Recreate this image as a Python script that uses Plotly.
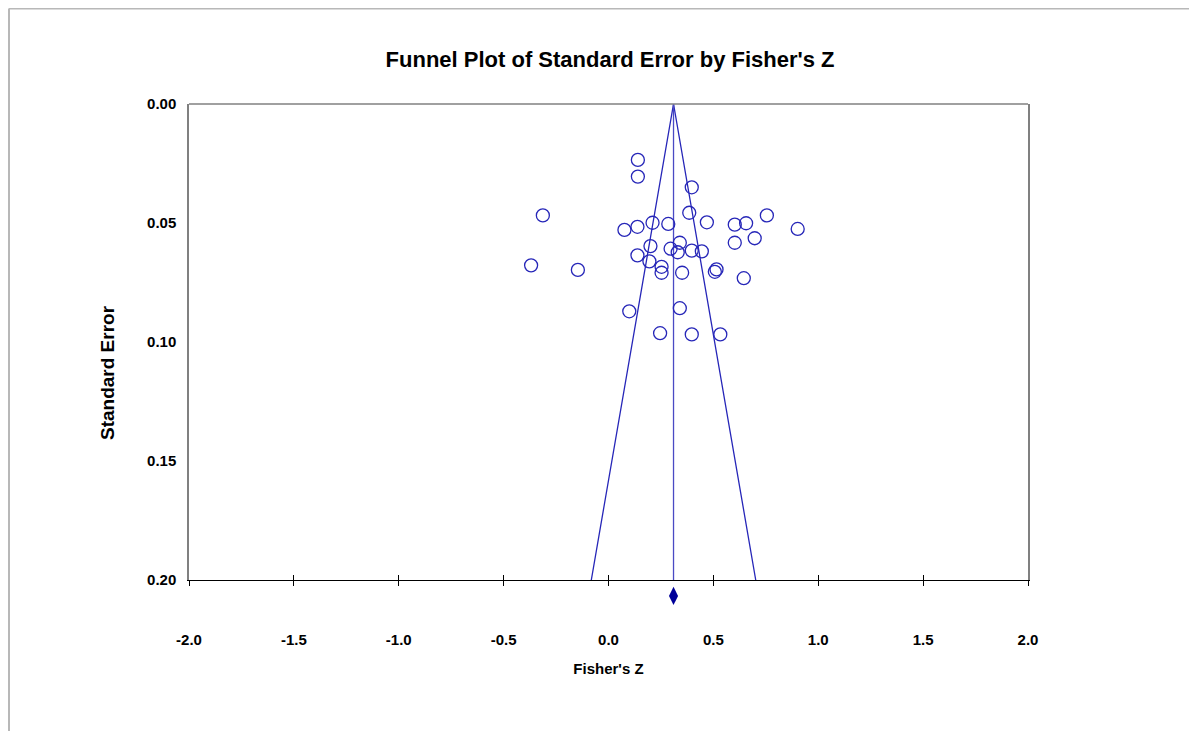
import plotly.graph_objects as go

# Study data: Fisher's Z and standard error
fisher_z = [0.140, 0.140, 0.397, -0.313, 0.385, 0.755, 0.076, 0.138, 0.210, 0.285,
            0.469, 0.602, 0.656, 0.902, 0.200, 0.340, 0.296, 0.330, 0.397, 0.445,
            0.602, 0.697, 0.138, 0.195, -0.369, -0.146, 0.253, 0.253, 0.351, 0.515,
            0.507, 0.645, 0.099, 0.340, 0.246, 0.397, 0.533]
std_err = [0.0235, 0.0305, 0.0350, 0.0468, 0.0457, 0.0468, 0.0529, 0.0516, 0.0499, 0.0504,
           0.0497, 0.0507, 0.0501, 0.0525, 0.0597, 0.0583, 0.0608, 0.0623, 0.0616, 0.0619,
           0.0583, 0.0564, 0.0636, 0.0661, 0.0678, 0.0697, 0.0684, 0.0709, 0.0709, 0.0695,
           0.0705, 0.0732, 0.0871, 0.0858, 0.0963, 0.0968, 0.0968]
pooled_z = 0.31
se_max = 0.20
z_crit = 1.96
diamond_se = 0.2067

x_ticks = [-2.0, -1.5, -1.0, -0.5, 0.0, 0.5, 1.0, 1.5, 2.0]
y_ticks = [0.00, 0.05, 0.10, 0.15, 0.20]

blue = "#2626b8"
sans = "Liberation Sans, Arial, sans-serif"

# geometry (pixels inside the figure)
plot_top, plot_bottom, ext_bottom = 96, 572, 612
main_h = plot_bottom - plot_top
ext_h = ext_bottom - plot_top
y_dom0 = (ext_bottom - plot_bottom) / ext_h
y2_max = se_max * ext_h / main_h

fig = go.Figure()

# funnel
fig.add_trace(go.Scatter(
    x=[pooled_z - z_crit * se_max, pooled_z, pooled_z + z_crit * se_max],
    y=[se_max, 0, se_max], mode="lines",
    line=dict(color=blue, width=1.3), hoverinfo="skip", showlegend=False))
fig.add_trace(go.Scatter(
    x=[pooled_z, pooled_z], y=[0, se_max], mode="lines",
    line=dict(color="#4a4ac4", width=1.3), hoverinfo="skip", showlegend=False))

# studies
fig.add_trace(go.Scatter(
    x=fisher_z, y=std_err, mode="markers",
    marker=dict(symbol="circle-open", size=13, color=blue, line=dict(width=1.3)),
    showlegend=False))

# pooled diamond (on an extended hidden y axis with the same scale)
fig.add_trace(go.Scatter(
    x=[pooled_z], y=[diamond_se], yaxis="y2", mode="markers", cliponaxis=False,
    marker=dict(symbol="diamond-tall", size=13, color="#000099"),
    showlegend=False))

# overlay axis for inward x ticks
fig.add_trace(go.Scatter(x=[0], y=[0], xaxis="x2", mode="markers",
                         marker=dict(opacity=0), hoverinfo="skip", showlegend=False))

fig.update_layout(
    width=1197, height=731,
    paper_bgcolor="white", plot_bgcolor="rgba(0,0,0,0)",
    margin=dict(l=181, r=177, t=plot_top, b=731 - ext_bottom),
    title=dict(text="<b>Funnel Plot of Standard Error by Fisher's Z</b>",
               x=0.503, xanchor="center", y=0.930, yanchor="middle",
               font=dict(family=sans, size=22, color="black")),
    xaxis=dict(range=[-2, 2], tickvals=x_ticks, ticktext=[f"{v:.1f}" for v in x_ticks],
               anchor="y",
               showgrid=False, zeroline=False, showline=True, linecolor="black", linewidth=1.3,
               ticks="outside", ticklen=5, tickcolor="black", tickwidth=1,
               ticklabelstandoff=41,
               tickfont=dict(family=sans, size=15, color="black", weight="bold"),
               title=dict(text="<b>Fisher's Z</b>", standoff=16,
                          font=dict(family=sans, size=15, color="black"))),
    xaxis2=dict(range=[-2, 2], overlaying="x", matches="x", side="bottom", anchor="y",
                tickvals=x_ticks[1:-1], showticklabels=False, ticks="inside", ticklen=5,
                tickcolor="black", showgrid=False, zeroline=False, showline=False),
    yaxis=dict(range=[se_max, 0], domain=[y_dom0, 1],
               tickvals=y_ticks, ticktext=[f"{v:.2f}" for v in y_ticks],
               showgrid=False, zeroline=False, showline=True, mirror=True,
               linecolor="#808080", linewidth=1.5, ticks="", ticklabelstandoff=8,
               tickfont=dict(family=sans, size=15, color="black", weight="bold")),
    yaxis2=dict(range=[y2_max, 0], domain=[0, 1], anchor="x",
                visible=False, showgrid=False, zeroline=False),
    annotations=[
        dict(text="<b>Standard Error</b>", textangle=-90, xref="paper", yref="paper",
             x=(99 - 181) / 839, y=(ext_bottom - 365) / ext_h,
             xanchor="center", yanchor="middle", showarrow=False,
             font=dict(family=sans, size=19, color="black")),
    ],
    shapes=[
        dict(type="line", xref="paper", yref="paper", x0=0, x1=1, y0=1, y1=1,
             line=dict(color="#808080", width=1.5)),
        dict(type="line", xref="paper", yref="paper",
             x0=-180 / 839, x1=1.22, y0=(ext_bottom - 0.5) / ext_h, y1=(ext_bottom - 0.5) / ext_h,
             line=dict(color="#b8b8b8", width=2)),
        dict(type="line", xref="paper", yref="paper",
             x0=-180 / 839, x1=-180 / 839, y0=(ext_bottom - 0.5) / ext_h, y1=-0.3,
             line=dict(color="#b8b8b8", width=2)),
    ],
)

fig.write_html("out.html")
